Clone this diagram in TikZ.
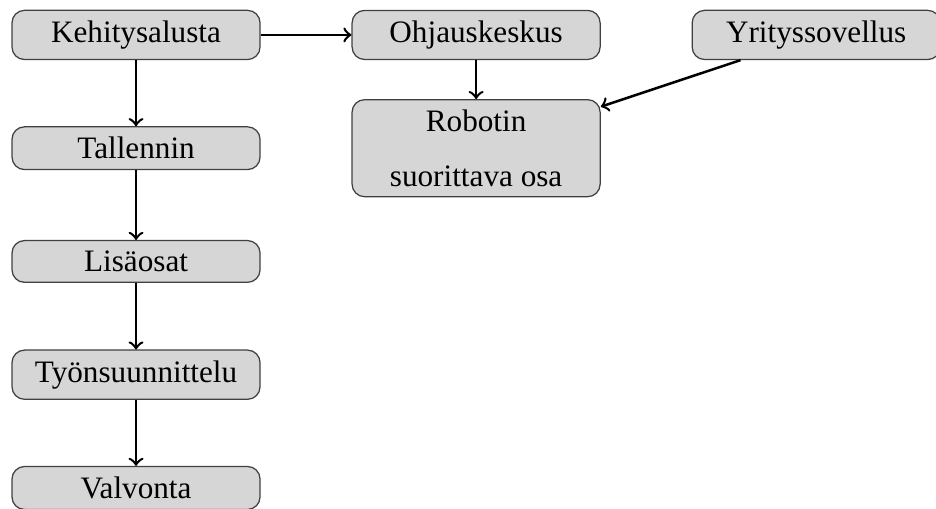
\documentclass[tikz,border=0pt]{standalone}
\usepackage{fontspec}
\setmainfont{Liberation Serif}
\usetikzlibrary{positioning}
\tikzset{
    flow-box/.style = {draw=black!75, fill=black!16, thin, rectangle, rounded corners, minimum width=79.5pt, align=center},
    flow-arrow/.style = {->, thick},
}

\begin{document}
\begin{tikzpicture}[node distance=36.3pt and 109pt, on grid]
\useasboundingbox (-43.6pt,11.2pt) rectangle (256.4pt,-151.9pt);
% left column
\node [flow-box] (kehitys) {Kehitysalusta};
\node [flow-box, below=of kehitys] (tallennin) {Tallennin};
\node [flow-box, below=of tallennin] (lisaosat) {Lisäosat};
\node [flow-box, below=of lisaosat] (suunnittelu) {Työnsuunnittelu};
\node [flow-box, below=of suunnittelu] (valvonta) {Valvonta};
% right part
\node [flow-box, right=of kehitys] (ohjaus) {Ohjauskeskus};
\node [flow-box, right=of ohjaus] (yritys) {Yrityssovellus};
\node [flow-box, below=of ohjaus] (robotti) {Robotin\\[5.4pt]suorittava osa};

\draw [flow-arrow] (kehitys) -- (ohjaus);
\draw [flow-arrow] (kehitys) -- (tallennin);
\draw [flow-arrow] (tallennin) -- (lisaosat);
\draw [flow-arrow] (lisaosat) -- (suunnittelu);
\draw [flow-arrow] (suunnittelu) -- (valvonta);
\draw [flow-arrow] (ohjaus) -- (robotti);
\draw [flow-arrow] (yritys) -- (robotti);
\end{tikzpicture}
\end{document}
